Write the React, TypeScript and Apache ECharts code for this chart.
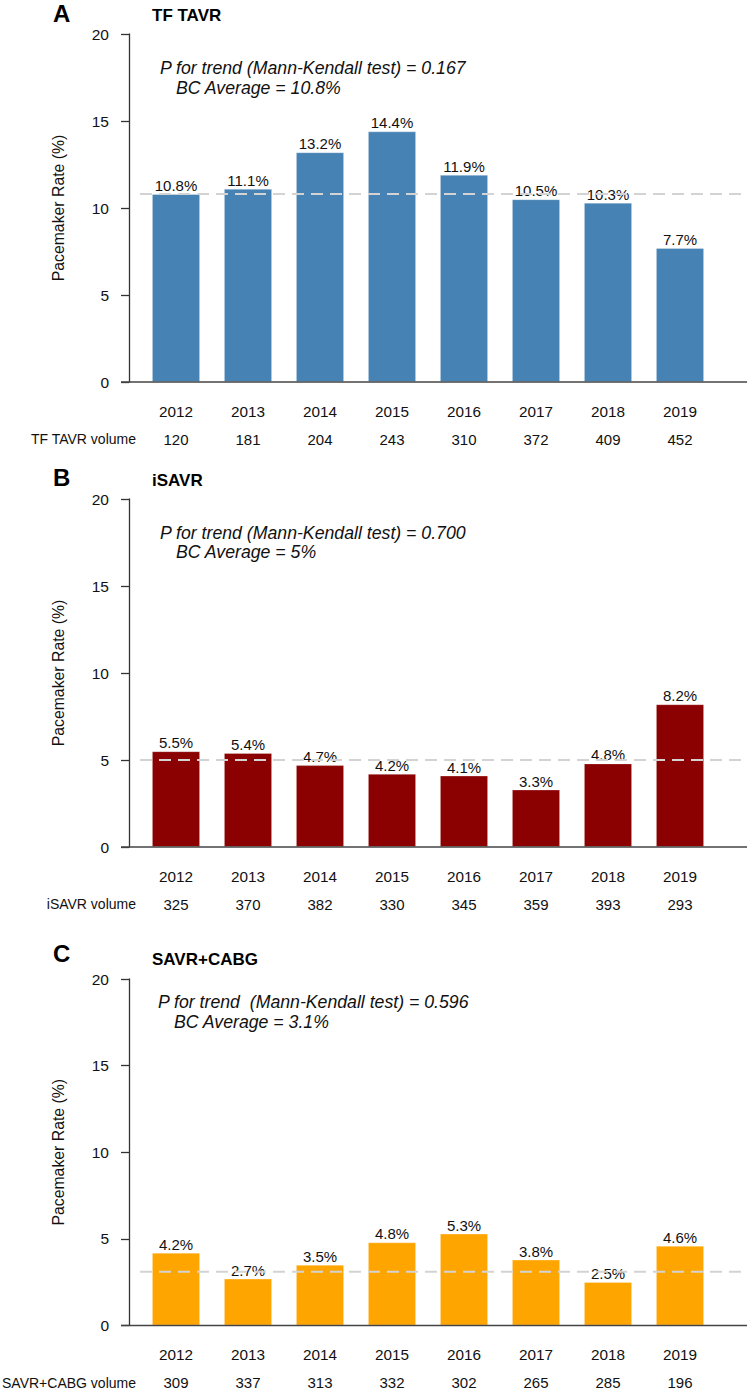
import React, { useEffect, useRef } from "react";
import * as echarts from "echarts";

const years = ["2012", "2013", "2014", "2015", "2016", "2017", "2018", "2019"];

const tavrRates = [10.8, 11.1, 13.2, 14.4, 11.9, 10.5, 10.3, 7.7];
const tavrVolume = [120, 181, 204, 243, 310, 372, 409, 452];
const tavrAverage = 10.8;
const tavrP = "0.167";

const isavrRates = [5.5, 5.4, 4.7, 4.2, 4.1, 3.3, 4.8, 8.2];
const isavrVolume = [325, 370, 382, 330, 345, 359, 393, 293];
const isavrAverage = 5;
const isavrP = "0.700";

const cabgRates = [4.2, 2.7, 3.5, 4.8, 5.3, 3.8, 2.5, 4.6];
const cabgVolume = [309, 337, 313, 332, 302, 265, 285, 196];
const cabgAverage = 3.1;
const cabgP = "0.596";

const yTicks = { min: 0, max: 20, interval: 5 };

const FONT = "'Liberation Sans', Arial, Helvetica, sans-serif";

const panels = [
  {
    letter: "A", title: "TF TAVR", rates: tavrRates, volume: tavrVolume, avg: tavrAverage,
    pText: "P for trend (Mann-Kendall test) = " + tavrP, avgText: "BC Average = " + tavrAverage + "%",
    volName: "TF TAVR volume", color: "#4682B4",
    top: 34, height: 348, letterY: 13.5, titleY: 15.5, pY: 68, bcY: 88, pX: 160,
  },
  {
    letter: "B", title: "iSAVR", rates: isavrRates, volume: isavrVolume, avg: isavrAverage,
    pText: "P for trend (Mann-Kendall test) = " + isavrP, avgText: "BC Average = " + isavrAverage + "%",
    volName: "iSAVR volume", color: "#8B0000",
    top: 499, height: 348, letterY: 477, titleY: 480.5, pY: 533, bcY: 552, pX: 160,
  },
  {
    letter: "C", title: "SAVR+CABG", rates: cabgRates, volume: cabgVolume, avg: cabgAverage,
    pText: "P for trend  (Mann-Kendall test) = " + cabgP, avgText: "BC Average = " + cabgAverage + "%",
    volName: "SAVR+CABG volume", color: "#FFA500",
    top: 979, height: 347, letterY: 953.5, titleY: 959, pY: 1002, bcY: 1022, pX: 158,
  },
];

const GRID_LEFT = 140;
const GRID_WIDTH = 576;

export default function App() {
  const ref = useRef<HTMLDivElement>(null);

  useEffect(() => {
    document.body.style.margin = "0";
    if (!ref.current) return;
    const chart = echarts.init(ref.current, null, { renderer: "svg" });

    const grids: any[] = [];
    const xAxes: any[] = [];
    const yAxes: any[] = [];
    const series: any[] = [];
    const texts: any[] = [];

    panels.forEach((p, i) => {
      grids.push({ left: GRID_LEFT, width: GRID_WIDTH, top: p.top, height: p.height });
      xAxes.push({
        type: "category",
        gridIndex: i,
        data: years,
        position: "bottom",
        axisLine: { show: false },
        axisTick: { show: false },
        axisLabel: { margin: 29, verticalAlign: "middle", fontSize: 15.3, color: "#111", fontFamily: FONT },
      });
      xAxes.push({
        type: "category",
        gridIndex: i,
        data: p.volume.map(String),
        position: "bottom",
        offset: 57,
        axisLine: { show: false },
        axisTick: { show: false },
        axisLabel: { margin: 0, verticalAlign: "middle", fontSize: 15, color: "#111", fontFamily: FONT },
        name: p.volName,
        nameLocation: "start",
        nameGap: 4,
        nameTextStyle: { fontSize: 14, color: "#111", fontFamily: FONT, align: "right", verticalAlign: "middle" },
      });
      yAxes.push({
        type: "value",
        gridIndex: i,
        min: yTicks.min,
        max: yTicks.max,
        interval: yTicks.interval,
        offset: 11,
        axisLine: { show: true, lineStyle: { color: "#333", width: 1.3 } },
        axisTick: { show: true, length: 8, lineStyle: { color: "#333", width: 1.3 } },
        axisLabel: { margin: 20, fontSize: 15.5, color: "#111", fontFamily: FONT },
        splitLine: { show: false },
        name: "Pacemaker Rate (%)",
        nameLocation: "middle",
        nameGap: 63,
        nameTextStyle: { fontSize: 15.8, color: "#111", fontFamily: FONT },
      });
      series.push({
        type: "bar",
        xAxisIndex: 2 * i,
        yAxisIndex: i,
        data: p.rates,
        barWidth: 48,
        itemStyle: { color: p.color, borderColor: "rgba(255,255,255,0.35)", borderWidth: 0.8 },
        label: {
          show: true,
          position: "top",
          distance: 1,
          formatter: "{c}%",
          fontSize: 15,
          color: "#111",
          fontFamily: FONT,
        },
        z: 2,
      });
      texts.push(
        { type: "text", x: 53, y: p.letterY, style: { text: p.letter, fontSize: 24, fontWeight: "bold", fontFamily: FONT, fill: "#000", align: "left", verticalAlign: "middle" } },
        { type: "text", x: 152, y: p.titleY, style: { text: p.title, fontSize: 17, fontWeight: "bold", fontFamily: FONT, fill: "#000", align: "left", verticalAlign: "middle" } },
        { type: "text", x: p.pX, y: p.pY, style: { text: p.pText, fontSize: 17.7, fontStyle: "italic", fontFamily: FONT, fill: "#111", align: "left", verticalAlign: "middle" } },
        { type: "text", x: p.pX + 16, y: p.bcY, style: { text: p.avgText, fontSize: 17.7, fontStyle: "italic", fontFamily: FONT, fill: "#111", align: "left", verticalAlign: "middle" } },
      );
    });

    chart.setOption({
      animation: false,
      grid: grids,
      xAxis: xAxes,
      yAxis: yAxes,
      series,
      graphic: texts,
    });

    const lines: any[] = [];
    panels.forEach((p, i) => {
      const y0 = chart.convertToPixel({ yAxisIndex: i } as any, 0) as number;
      const yAvg = chart.convertToPixel({ yAxisIndex: i } as any, p.avg) as number;
      lines.push({
        type: "line",
        shape: { x1: GRID_LEFT - 19, y1: y0, x2: 747, y2: y0 },
        style: { stroke: "#444", lineWidth: 1.3 },
        z: 5,
      });
      lines.push({
        type: "line",
        shape: { x1: GRID_LEFT, y1: yAvg, x2: 747, y2: yAvg },
        style: { stroke: "#d3d3d3", lineWidth: 2, lineDash: [12, 7] },
        z: 10,
      });
    });
    chart.setOption({ graphic: [...texts, ...lines] });

    return () => chart.dispose();
  }, []);

  return <div ref={ref} style={{ width: 749, height: 1390 }} />;
}
